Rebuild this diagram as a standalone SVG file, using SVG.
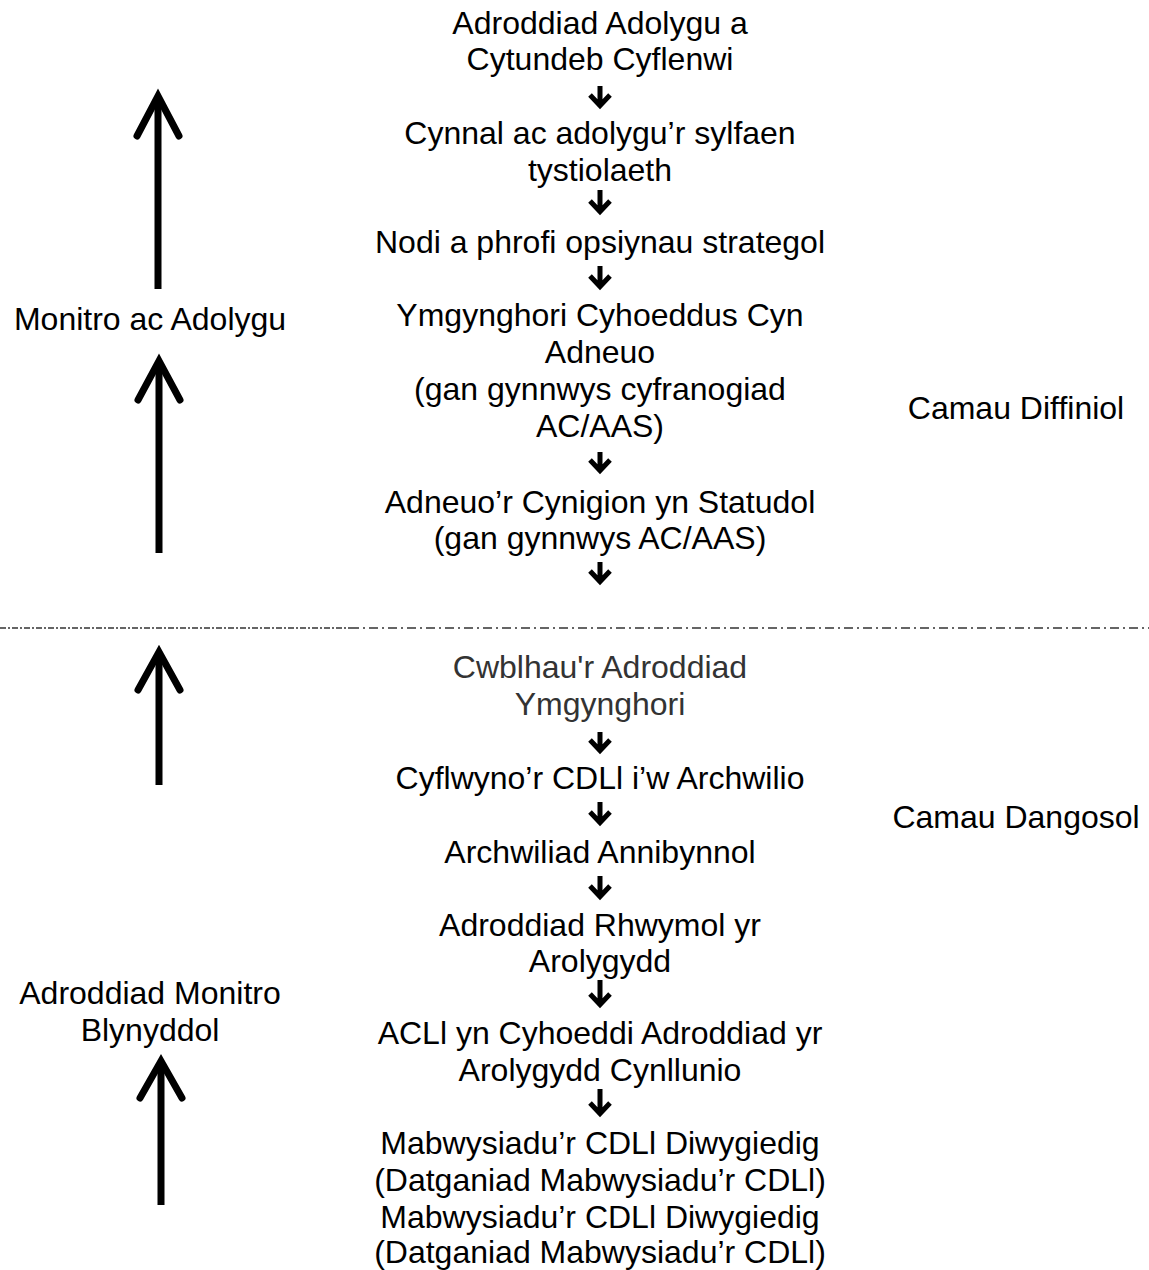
<svg xmlns="http://www.w3.org/2000/svg" width="1149" height="1270" viewBox="0 0 1149 1270">
<style>
text{font-family:"Liberation Sans",Arial,sans-serif;font-size:32px;fill:#000;text-anchor:middle}
.gray{fill:#333}
.big{fill:none;stroke:#000;stroke-width:7;stroke-linecap:round;stroke-linejoin:miter}
.shaft{fill:none;stroke:#000;stroke-width:7;stroke-linecap:butt}
.small{fill:none;stroke:#000;stroke-width:5;stroke-linecap:butt;stroke-linejoin:miter}
.div1{stroke:#333;stroke-width:1.5;stroke-dasharray:6 2 2 2;fill:none}
.div2{stroke:#333;stroke-width:1.5;stroke-dasharray:9 4 2 4;fill:none}
</style>
<rect width="1149" height="1270" fill="#fff"/>
<g id="n1"><text x="600" y="34">Adroddiad Adolygu a<tspan x="600" dy="36">Cytundeb Cyflenwi</tspan></text></g>
<g id="n2"><text x="600" y="144">Cynnal ac adolygu’r sylfaen<tspan x="600" dy="37">tystiolaeth</tspan></text></g>
<g id="n3"><text x="600" y="253">Nodi a phrofi opsiynau strategol</text></g>
<g id="n4"><text x="600" y="326">Ymgynghori Cyhoeddus Cyn<tspan x="600" dy="37">Adneuo</tspan><tspan x="600" dy="37">(gan gynnwys cyfranogiad</tspan><tspan x="600" dy="37">AC/AAS)</tspan></text></g>
<g id="n5"><text x="600" y="513">Adneuo’r Cynigion yn Statudol<tspan x="600" dy="36">(gan gynnwys AC/AAS)</tspan></text></g>
<g id="n6"><text class="gray" x="600" y="678">Cwblhau'r Adroddiad<tspan x="600" dy="37">Ymgynghori</tspan></text></g>
<g id="n7"><text x="600" y="789">Cyflwyno’r CDLl i’w Archwilio</text></g>
<g id="n8"><text x="600" y="863">Archwiliad Annibynnol</text></g>
<g id="n9"><text x="600" y="936">Adroddiad Rhwymol yr<tspan x="600" dy="36">Arolygydd</tspan></text></g>
<g id="n10"><text x="600" y="1044">ACLl yn Cyhoeddi Adroddiad yr<tspan x="600" dy="37">Arolygydd Cynllunio</tspan></text></g>
<g id="n11"><text x="600" y="1154">Mabwysiadu’r CDLl Diwygiedig<tspan x="600" dy="37">(Datganiad Mabwysiadu’r CDLl)</tspan><tspan x="600" dy="37">Mabwysiadu’r CDLl Diwygiedig</tspan><tspan x="600" dy="35">(Datganiad Mabwysiadu’r CDLl)</tspan></text></g>
<g id="monitro"><text x="150" y="330">Monitro ac Adolygu</text></g>
<g id="blynyddol"><text x="150" y="1004">Adroddiad Monitro<tspan x="150" dy="37">Blynyddol</tspan></text></g>
<g id="diffiniol"><text x="1016" y="419">Camau Diffiniol</text></g>
<g id="dangosol"><text x="1016" y="828">Camau Dangosol</text></g>
<g id="divider">
<line class="div1" x1="0" y1="628" x2="350" y2="628"/>
<line class="div2" x1="350" y1="628" x2="1149" y2="628"/>
</g>
<g id="connectors">
<path class="small" d="M600 86V104M590 95L600 105.5L610 95"/>
<path class="small" d="M600 190V212M590 201L600 211.5L610 201"/>
<path class="small" d="M600 266V286M590 276L600 286.5L610 276"/>
<path class="small" d="M600 452V470M590 460L600 470.5L610 460"/>
<path class="small" d="M600 562V581M590 571L600 581.5L610 571"/>
<path class="small" d="M600 732V750M590 740L600 750.5L610 740"/>
<path class="small" d="M600 802V823M590 812L600 822.5L610 812"/>
<path class="small" d="M600 876V896M590 886L600 896.5L610 886"/>
<path class="small" d="M600 980V1004M590 994L600 1004.5L610 994"/>
<path class="small" d="M600 1089V1113M590 1103L600 1113.5L610 1103"/>
<g id="bigArrows">
<path class="shaft" d="M158 289V97"/>
<path class="big" d="M137 136L158 96L179 136"/>
<path class="shaft" d="M159 553V362"/>
<path class="big" d="M138 400L159 361L180 400"/>
<path class="shaft" d="M159 785V653"/>
<path class="big" d="M138 690L159 652L180 690"/>
<path class="shaft" d="M161 1205V1062"/>
<path class="big" d="M140 1098L161 1061L182 1098"/>
</g>
</g>
</svg>
